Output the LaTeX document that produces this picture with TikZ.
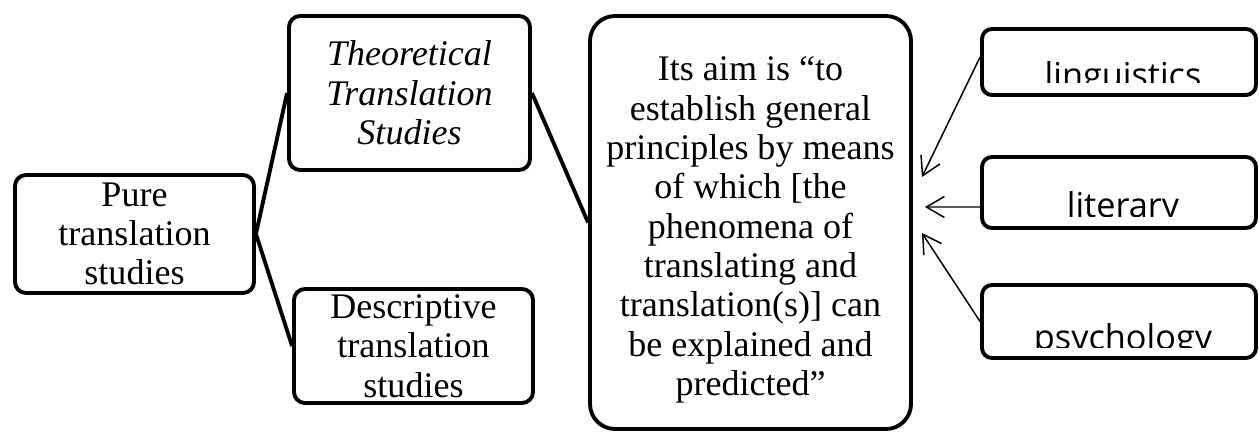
\documentclass[tikz,border=0pt]{standalone}
\usepackage{fontspec}
\setmainfont{Liberation Serif}
\newfontfamily\fieldfont{Open Sans}
\usetikzlibrary{positioning,arrows.meta,calc}

\begin{document}
\begin{tikzpicture}[>={Straight Barb[length=3.6mm,width=4.2mm]},
  box/.style={draw,line width=2.2pt,rounded corners=0.22cm,align=center,inner sep=0pt,font=\fontsize{20.5}{22.4}\selectfont},
  field/.style={draw,line width=2.2pt,rounded corners=0.2cm,minimum width=5.48cm},
  fieldtext/.style={anchor=base,inner sep=0pt,font=\fieldfont\fontsize{19.5}{22}\selectfont},
  link/.style={line width=2.2pt},
  feed/.style={->,line width=0.85pt}]
  \useasboundingbox (0,0) rectangle (25.18,8.66);
  % left part of the map
  \node[box,minimum width=4.78cm,minimum height=2.36cm] (pure) at (2.69,3.98) {Pure\\translation\\studies};
  \node[box,minimum width=4.82cm,minimum height=3.08cm,font=\fontsize{20.5}{22.4}\selectfont\itshape] (theo) at (8.19,6.80) {Theoretical\\Translation\\Studies};
  \node[box,minimum width=4.78cm,minimum height=2.28cm] (desc) at (8.27,1.74) {Descriptive\\translation\\studies};
  \node[box,minimum width=6.42cm,minimum height=8.26cm,rounded corners=0.5cm] (aim) at (15.01,4.21) {};
  \node[box,draw=none] (aimtext) at ([yshift=-0.15cm]aim.center) {Its aim is “to\\establish general\\principles by means\\of which [the\\phenomena of\\translating and\\translation(s)] can\\be explained and\\predicted”};
  \draw[link] (pure.east) -- (theo.west);
  \draw[link] (pure.east) -- (desc.west);
  \draw[link] (theo.east) -- (aim.west);
  % fields on the right
  \node[field,minimum height=1.32cm] (ling) at (22.38,7.42) {};
  \node[field,minimum height=1.42cm] (lit) at (22.38,4.81) {};
  \node[field,minimum height=1.46cm] (psy) at (22.38,2.23) {};
  \begin{scope}
    \clip (19.8,7.00) rectangle (25.0,8.2);
    \node[fieldtext] (lingtext) at (22.46,6.90) {linguistics};
  \end{scope}
  \begin{scope}
    \clip (19.8,4.32) rectangle (25.0,5.4);
    \node[fieldtext] (littext) at (22.46,4.30) {literary};
  \end{scope}
  \begin{scope}
    \clip (19.8,1.72) rectangle (25.0,2.9);
    \node[fieldtext] (psytext) at (22.46,1.66) {psychology};
  \end{scope}
  \coordinate (lingend) at ($(aim.east)+(0.18,0.91)$);
  \coordinate (litend) at ($(aim.east)+(0.24,0.31)$);
  \coordinate (psyend) at ($(aim.east)+(0.18,-0.21)$);
  \draw[feed] ([yshift=0.1cm]ling.west) -- (lingend);
  \draw[feed] ([yshift=-0.29cm]lit.west) -- (litend);
  \draw[feed] (psy.west) -- (psyend);
\end{tikzpicture}
\end{document}
